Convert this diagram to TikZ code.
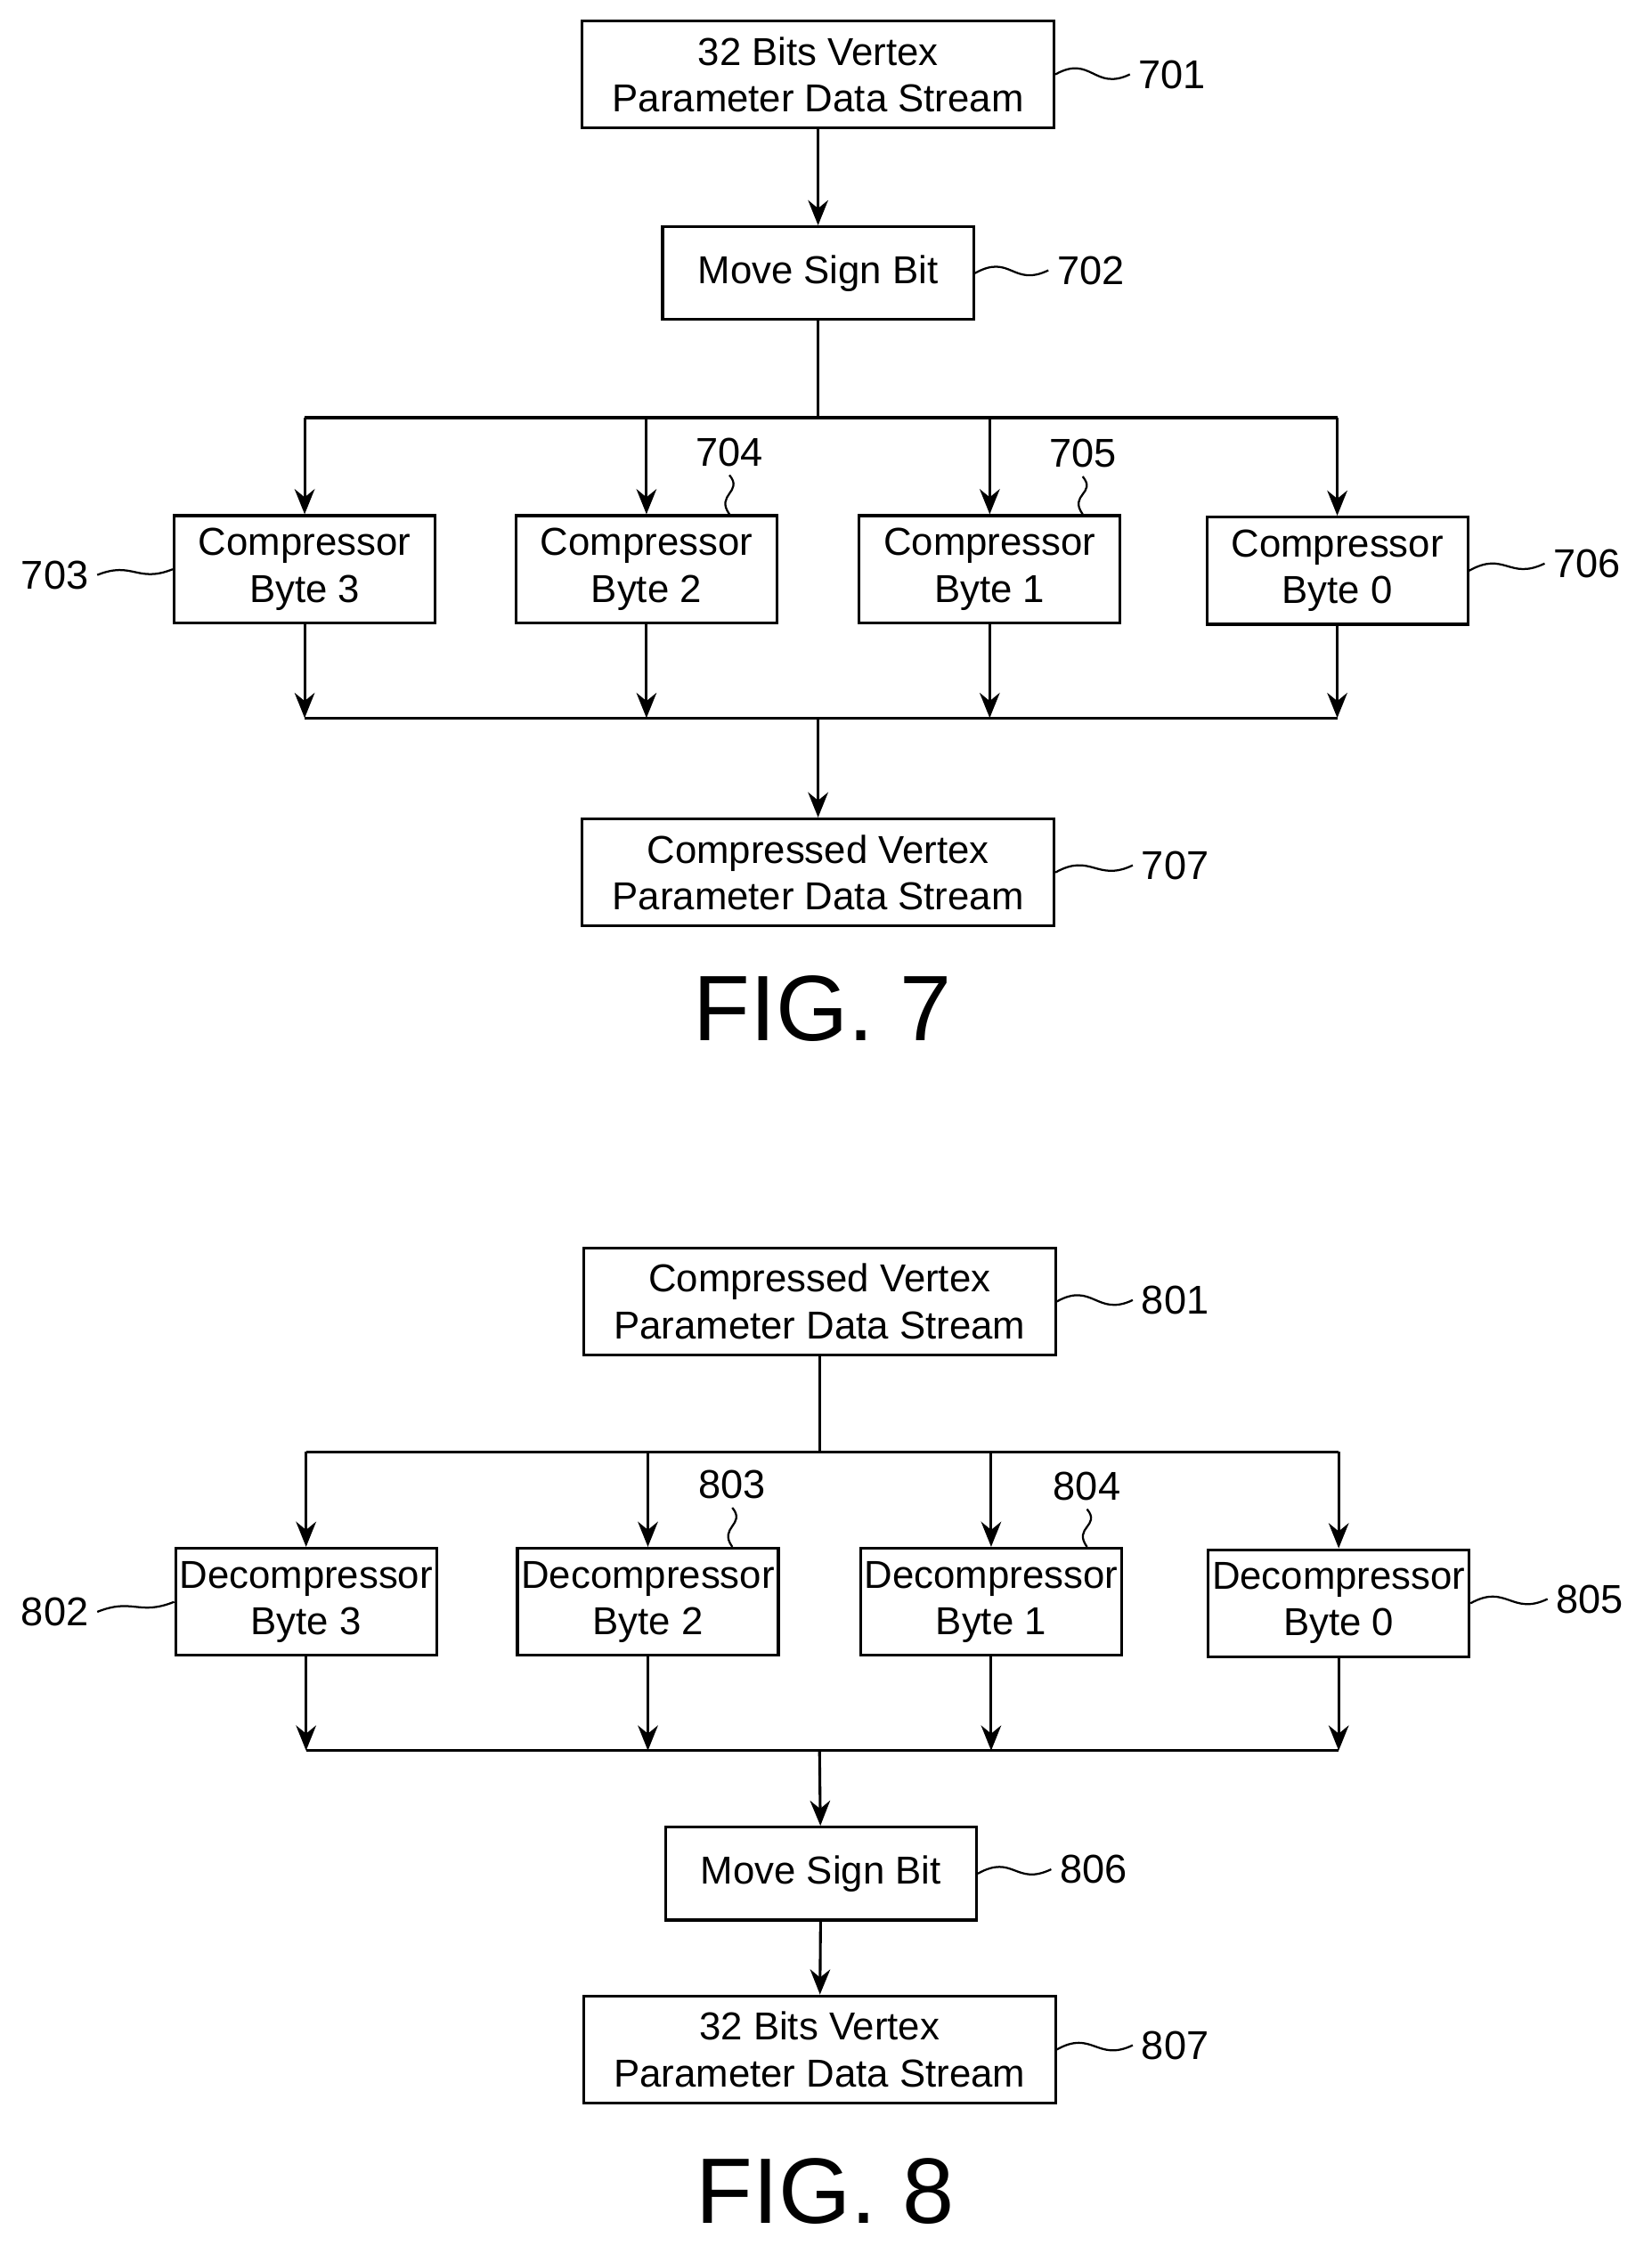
\documentclass[tikz,border=0pt]{standalone}
\usepackage{fontspec}
\setmainfont{Liberation Sans}
\usetikzlibrary{arrows.meta, positioning}

\begin{document}
\begin{tikzpicture}[
                x=0.02cm, y=-0.02cm,
                every node/.style={font=\fontsize{15.5}{18.5}\selectfont},
                process/.style={rectangle, minimum height=1.5cm, draw=black, line width=1.1pt, fill=white, align=center, inner sep=1pt},
                wide/.style={process, minimum width=6.6cm},
                small/.style={process, minimum width=4.35cm, minimum height=1.3cm},
                unit/.style={process, minimum width=3.65cm},
                arrow/.style={line width=1.1pt,-{Stealth[length=10pt,width=8pt]}},
                bus/.style={line width=1.1pt},
                lead/.style={line width=0.8pt},
                ref/.style={font=\fontsize{16}{19}\selectfont},
                fig/.style={font=\fontsize{37}{40}\selectfont}
            ]
                \useasboundingbox (0,0) rectangle (1155,1576);

                % FIG. 7 nodes
                \node (in7) [wide] at (572,52) {32 Bits Vertex\\Parameter Data Stream};
                \node (sign7) [small] at (572,191) {Move Sign Bit};
                \node (c3) [unit] at (213,398) {Compressor\\Byte 3};
                \node (c2) [unit] at (452,398) {Compressor\\Byte 2};
                \node (c1) [unit] at (692,398) {Compressor\\Byte 1};
                \node (c0) [unit] at (935,399) {Compressor\\Byte 0};
                \node (out7) [wide] at (572,610) {Compressed Vertex\\Parameter Data Stream};
                \node (fig7) [fig] at (575,705) {FIG. 7};
                \coordinate (split7) at (572,292);
                \coordinate (join7) at (572,502);

                % FIG. 7 arrows
                \draw [arrow] (in7) -- (sign7);
                \draw [bus] (sign7) -- (split7);
                \draw [bus] (split7 -| c3) -- (split7 -| c0);
                \foreach \n in {c3,c2,c1,c0} {
                    \draw [arrow] (split7 -| \n) -- (\n);
                    \draw [arrow] (\n) -- (join7 -| \n);
                }
                \draw [bus] (join7 -| c3) -- (join7 -| c0);
                \draw [arrow] (join7) -- (out7);

                % FIG. 7 reference numerals
                \node (l701) [ref, anchor=west] at (790,52) {701};
                \node (l702) [ref, anchor=west] at (733,189) {702};
                \node (l703) [ref, anchor=east] at (68,402) {703};
                \node (l704) [ref] at (510,316) {704};
                \node (l705) [ref] at (757,317) {705};
                \node (l706) [ref, anchor=west] at (1080,394) {706};
                \node (l707) [ref, anchor=west] at (792,605) {707};
                \draw [lead] (in7.east) .. controls +(25,-14) and +(-25,12) .. (l701.west);
                \draw [lead] (sign7.east) .. controls +(25,-14) and +(-25,12) .. (l702.west);
                \draw [lead] (c3.west) .. controls +(-25,10) and +(25,-10) .. (l703.east);
                \draw [lead] (l704.south |- c2.north) .. controls +(-10,-14) and +(10,12) .. (l704.south);
                \draw [lead] (l705.south |- c1.north) .. controls +(-10,-14) and +(10,12) .. (l705.south);
                \draw [lead] (c0.east) .. controls +(25,-14) and +(-25,12) .. (l706.west);
                \draw [lead] (out7.east) .. controls +(25,-14) and +(-25,12) .. (l707.west);

                % FIG. 8 nodes
                \node (in8) [wide] at (573,910) {Compressed Vertex\\Parameter Data Stream};
                \node (d3) [unit] at (214,1120) {Decompressor\\Byte 3};
                \node (d2) [unit] at (453,1120) {Decompressor\\Byte 2};
                \node (d1) [unit] at (693,1120) {Decompressor\\Byte 1};
                \node (d0) [unit] at (936,1121) {Decompressor\\Byte 0};
                \node (sign8) [small] at (574,1310) {Move Sign Bit};
                \node (out8) [wide] at (573,1433) {32 Bits Vertex\\Parameter Data Stream};
                \node (fig8) [fig] at (577,1532) {FIG. 8};
                \coordinate (split8) at (573,1015);
                \coordinate (join8) at (573,1224);

                % FIG. 8 arrows
                \draw [bus] (in8) -- (split8);
                \draw [bus] (split8 -| d3) -- (split8 -| d0);
                \foreach \n in {d3,d2,d1,d0} {
                    \draw [arrow] (split8 -| \n) -- (\n);
                    \draw [arrow] (\n) -- (join8 -| \n);
                }
                \draw [bus] (join8 -| d3) -- (join8 -| d0);
                \draw [arrow] (join8) -- (sign8);
                \draw [arrow] (sign8) -- (out8);

                % FIG. 8 reference numerals
                \node (l801) [ref, anchor=west] at (792,909) {801};
                \node (l802) [ref, anchor=east] at (68,1127) {802};
                \node (l803) [ref] at (512,1038) {803};
                \node (l804) [ref] at (760,1039) {804};
                \node (l805) [ref, anchor=west] at (1082,1118) {805};
                \node (l806) [ref, anchor=west] at (735,1307) {806};
                \node (l807) [ref, anchor=west] at (792,1430) {807};
                \draw [lead] (in8.east) .. controls +(25,-14) and +(-25,12) .. (l801.west);
                \draw [lead] (d3.west) .. controls +(-25,10) and +(25,-10) .. (l802.east);
                \draw [lead] (l803.south |- d2.north) .. controls +(-10,-14) and +(10,12) .. (l803.south);
                \draw [lead] (l804.south |- d1.north) .. controls +(-10,-14) and +(10,12) .. (l804.south);
                \draw [lead] (d0.east) .. controls +(25,-14) and +(-25,12) .. (l805.west);
                \draw [lead] (sign8.east) .. controls +(25,-14) and +(-25,12) .. (l806.west);
                \draw [lead] (out8.east) .. controls +(25,-14) and +(-25,12) .. (l807.west);

\end{tikzpicture}
\end{document}
